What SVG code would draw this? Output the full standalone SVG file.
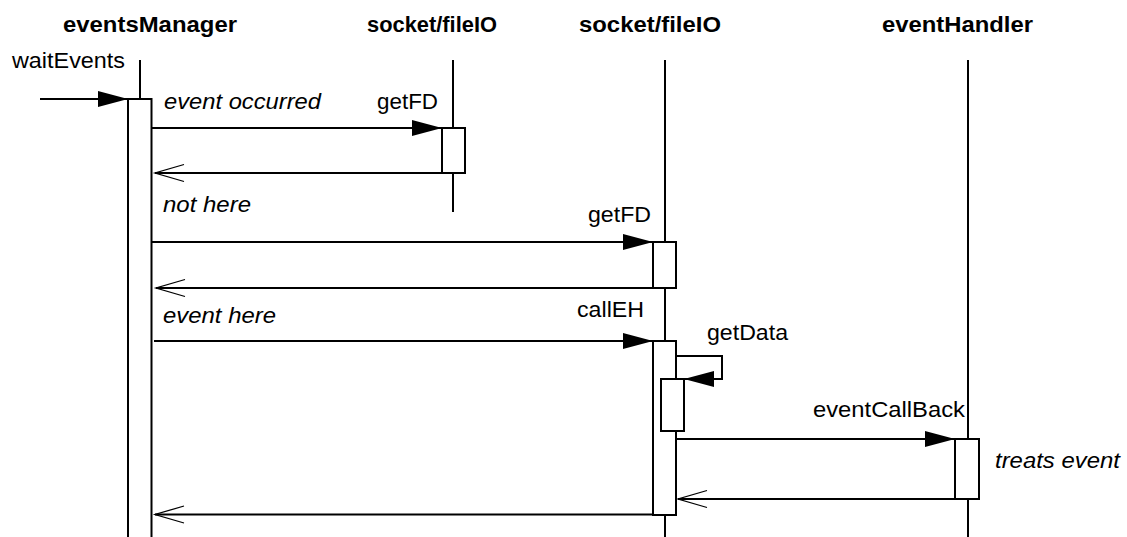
<svg xmlns="http://www.w3.org/2000/svg" width="1127" height="537" viewBox="0 0 1127 537">
<style>
.t{font-family:"Liberation Sans",Arial,sans-serif;font-size:22px;fill:#000}
.b{font-weight:bold}
.i{font-style:italic}
.life{stroke:#000;stroke-width:2;fill:none}
.act{stroke:#000;stroke-width:2;fill:#fff}
.msg{stroke:#000;stroke-width:2;fill:none}
</style>
<defs>
<marker id="fill" markerUnits="userSpaceOnUse" markerWidth="30" markerHeight="16" refX="30" refY="8" orient="auto" overflow="visible">
<path d="M0,0 L30,8 L0,16 Z" fill="#000"/>
</marker>
<marker id="open" markerUnits="userSpaceOnUse" markerWidth="30" markerHeight="18" refX="29" refY="8.5" orient="auto" overflow="visible">
<path d="M0,0 L29,8.5 L0,17" fill="none" stroke="#000" stroke-width="1.3"/>
</marker>
</defs>
<rect width="1127" height="537" fill="#fff"/>
<g id="eventsManager">
<text class="t b" x="63" y="32" textLength="174" lengthAdjust="spacingAndGlyphs">eventsManager</text>
<line class="life" x1="140" y1="60" x2="140" y2="99"/>
<rect class="act" x="128" y="99" width="23.5" height="460"/>
</g>
<g id="socketFileIO1">
<text class="t b" x="367" y="32" textLength="130" lengthAdjust="spacingAndGlyphs">socket/fileIO</text>
<line class="life" x1="453" y1="60" x2="453" y2="212"/>
<rect class="act" x="442" y="128" width="23" height="45"/>
</g>
<g id="socketFileIO2">
<text class="t b" x="579" y="32" textLength="142" lengthAdjust="spacingAndGlyphs">socket/fileIO</text>
<line class="life" x1="665" y1="60" x2="665" y2="537"/>
<rect class="act" x="653" y="242" width="23" height="46"/>
<rect class="act" x="653" y="341" width="23" height="174"/>
<rect class="act" x="661" y="379" width="23" height="52"/>
</g>
<g id="eventHandler">
<text class="t b" x="882" y="32" textLength="151" lengthAdjust="spacingAndGlyphs">eventHandler</text>
<line class="life" x1="968" y1="60" x2="968" y2="537"/>
<rect class="act" x="955" y="439" width="24" height="60"/>
</g>
<g id="connectors">
<line class="msg" x1="40" y1="99" x2="128" y2="99" marker-end="url(#fill)"/>
<line class="msg" x1="151" y1="128" x2="442" y2="128" marker-end="url(#fill)"/>
<line class="msg" x1="442" y1="173" x2="155" y2="173" marker-end="url(#open)"/>
<line class="msg" x1="151" y1="242" x2="653" y2="242" marker-end="url(#fill)"/>
<line class="msg" x1="653" y1="288" x2="156" y2="288" marker-end="url(#open)"/>
<line class="msg" x1="154" y1="341" x2="653" y2="341" marker-end="url(#fill)"/>
<path class="msg" d="M676,356 H722 V379 H684" marker-end="url(#fill)"/>
<line class="msg" x1="676" y1="439" x2="955" y2="439" marker-end="url(#fill)"/>
<line class="msg" x1="955" y1="499" x2="678" y2="499" marker-end="url(#open)"/>
<line class="msg" x1="653" y1="514.5" x2="155" y2="514.5" marker-end="url(#open)"/>
</g>
<g id="labels">
<text class="t" x="12" y="68" textLength="113" lengthAdjust="spacingAndGlyphs">waitEvents</text>
<text class="t i" x="164" y="109" textLength="157" lengthAdjust="spacingAndGlyphs">event occurred</text>
<text class="t" x="377" y="109" textLength="61" lengthAdjust="spacingAndGlyphs">getFD</text>
<text class="t i" x="163" y="212" textLength="88" lengthAdjust="spacingAndGlyphs">not here</text>
<text class="t" x="588" y="222" textLength="63" lengthAdjust="spacingAndGlyphs">getFD</text>
<text class="t i" x="163" y="323" textLength="113" lengthAdjust="spacingAndGlyphs">event here</text>
<text class="t" x="577" y="317" textLength="67" lengthAdjust="spacingAndGlyphs">callEH</text>
<text class="t" x="707" y="340" textLength="81" lengthAdjust="spacingAndGlyphs">getData</text>
<text class="t" x="813" y="417" textLength="152" lengthAdjust="spacingAndGlyphs">eventCallBack</text>
<text class="t i" x="995" y="468" textLength="125" lengthAdjust="spacingAndGlyphs">treats event</text>
</g>
</svg>
